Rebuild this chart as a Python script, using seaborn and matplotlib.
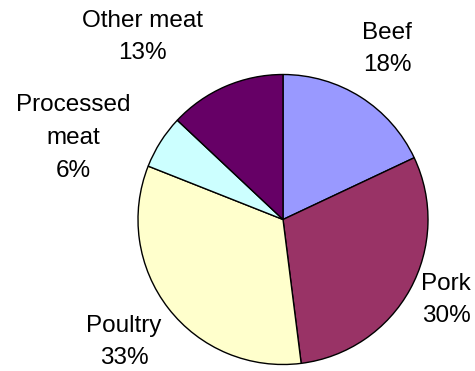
import matplotlib
matplotlib.use("Agg")
import matplotlib.pyplot as plt
import seaborn as sns

categories = ["Beef", "Pork", "Poultry", "Processed meat", "Other meat"]
label_text = ["Beef", "Pork", "Poultry", "Processed\nmeat", "Other meat"]
values = [18, 30, 33, 6, 13]
colors = ["#9999FF", "#993366", "#FFFFCC", "#CCFFFF", "#660066"]

sns.set_theme(style="white")
plt.rcParams["font.family"] = ["Liberation Sans", "DejaVu Sans"]

W, H = 475, 371
fig = plt.figure(figsize=(W / 100, H / 100), dpi=100)
fig.patch.set_facecolor("white")

cx, cy, R = 283, 219.5, 145
ax = fig.add_axes([(cx - R) / W, (H - cy - R) / H, 2 * R / W, 2 * R / H])
wedges, _ = ax.pie(values, colors=colors, startangle=90, counterclock=False,
                   radius=1, wedgeprops=dict(edgecolor="black", linewidth=1.0))
for w in wedges:
    w.set_clip_on(False)
ax.set_xlim(-1, 1)
ax.set_ylim(-1, 1)
ax.set_aspect("equal")
ax.axis("off")

# label centres in pixels (layout)
label_pos = [(387, 49), (446, 300), (124, 342), (73, 138), (142, 37)]
for txt, v, (px, py) in zip(label_text, values, label_pos):
    fig.text(px / W, 1 - py / H, f"{txt}\n{v}%", ha="center", va="center",
             multialignment="center", fontsize=17.5, linespacing=1.62,
             color="black")

fig.savefig("out.png", dpi=100, facecolor="white")
